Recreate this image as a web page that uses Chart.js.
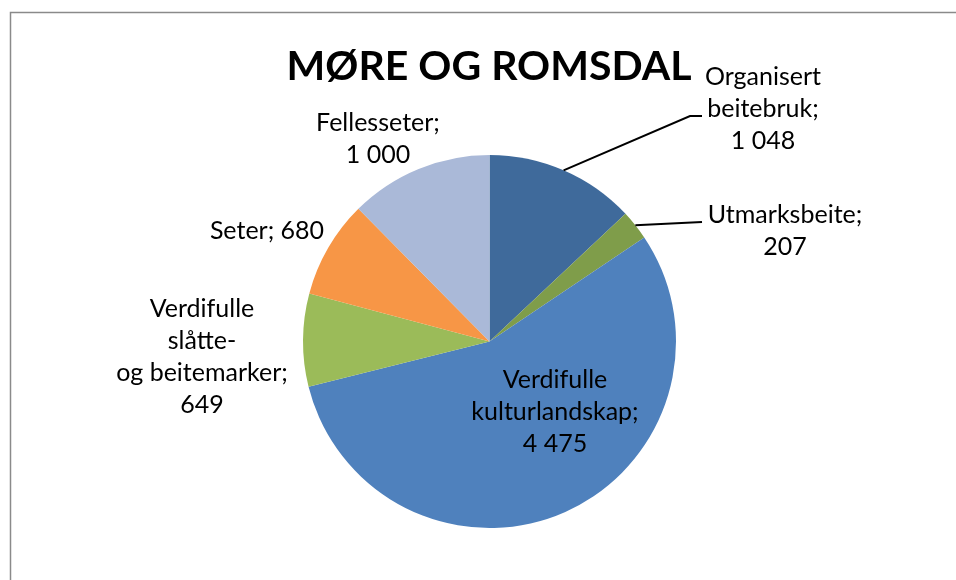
<!DOCTYPE html>
<html>
<head>
<meta charset="utf-8">
<script src="https://cdn.jsdelivr.net/npm/chart.js@4.4.1/dist/chart.umd.min.js"></script>
<style>
  html, body { margin: 0; padding: 0; background: #ffffff; }
  #wrap { width: 956px; height: 580px; position: relative; }
</style>
</head>
<body>
<div id="wrap"><canvas id="chart" width="956" height="580"></canvas></div>
<script>
// Category names (line breaks as they are wrapped in the labels)
const categories = [
  'Organisert\nbeitebruk',
  'Utmarksbeite',
  'Verdifulle\nkulturlandskap',
  'Verdifulle\nslåtte-\nog beitemarker',
  'Seter',
  'Fellesseter'
];
// Number of areas per category
const values = [1048, 207, 4475, 649, 680, 1000];
// Slice fill colours
const sliceColors = ['#3F6A9B', '#7F9D4A', '#4F81BD', '#9BBB59', '#F79646', '#AAB9D8'];
const chartTitle = 'MØRE OG ROMSDAL';

// Norwegian number format: space as thousands separator
function fmt(v) {
  return String(v).replace(/\B(?=(\d{3})+(?!\d))/g, ' ');
}

// Where each data label sits (centre x, first-line centre y) and optional leader line bends
const labelPlacement = [
  { x: 763, y: 77, leader: [[690, 116], [702, 116]] },
  { x: 785, y: 215, leader: [[702, 222]] },
  { x: 555, y: 380 },
  { x: 202, y: 309 },
  { x: 267, y: 231, inline: true },
  { x: 378, y: 123 }
];

const LABEL_FONT = '25px Lato, "Open Sans", sans-serif';
const LINE_H = 32;

const framePlugin = {
  id: 'frame',
  beforeDraw(chart) {
    const ctx = chart.ctx;
    ctx.save();
    ctx.fillStyle = '#ffffff';
    ctx.fillRect(0, 0, chart.width, chart.height);
    ctx.strokeStyle = '#8a8a8a';
    ctx.lineWidth = 1.5;
    ctx.beginPath();
    ctx.moveTo(10.5, chart.height);
    ctx.lineTo(10.5, 12.5);
    ctx.lineTo(chart.width, 12.5);
    ctx.stroke();
    ctx.restore();
  }
};

const labelPlugin = {
  id: 'sliceLabels',
  afterDatasetsDraw(chart) {
    const ctx = chart.ctx;
    const meta = chart.getDatasetMeta(0);
    const data = chart.data.datasets[0].data;
    ctx.save();

    // title
    ctx.fillStyle = '#000000';
    ctx.font = 'bold 41px Lato, "Open Sans", sans-serif';
    ctx.textAlign = 'center';
    ctx.textBaseline = 'alphabetic';
    ctx.fillText(chartTitle, 489, 80);

    ctx.font = LABEL_FONT;
    ctx.textBaseline = 'middle';
    meta.data.forEach((arc, i) => {
      const p = labelPlacement[i];
      const name = chart.data.labels[i];
      const text = name + ';' + (p.inline ? ' ' : '\n') + fmt(data[i]);
      const lines = text.split('\n');
      lines.forEach((ln, k) => ctx.fillText(ln, p.x, p.y + k * LINE_H));

      if (p.leader) {
        const mid = (arc.startAngle + arc.endAngle) / 2;
        const ax = arc.x + Math.cos(mid) * arc.outerRadius;
        const ay = arc.y + Math.sin(mid) * arc.outerRadius;
        ctx.strokeStyle = '#000000';
        ctx.lineWidth = 2;
        ctx.beginPath();
        ctx.moveTo(ax, ay);
        p.leader.forEach(pt => ctx.lineTo(pt[0], pt[1]));
        ctx.stroke();
      }
    });
    ctx.restore();
  }
};

new Chart(document.getElementById('chart'), {
  type: 'pie',
  data: {
    labels: categories,
    datasets: [{
      data: values,
      backgroundColor: sliceColors,
      borderWidth: 0
    }]
  },
  options: {
    responsive: false,
    animation: false,
    rotation: 0,
    layout: { padding: { top: 155, bottom: 52, left: 303, right: 280 } },
    plugins: {
      legend: { display: false },
      title: { display: false },
      tooltip: { enabled: false }
    }
  },
  plugins: [framePlugin, labelPlugin]
});
</script>
</body>
</html>
